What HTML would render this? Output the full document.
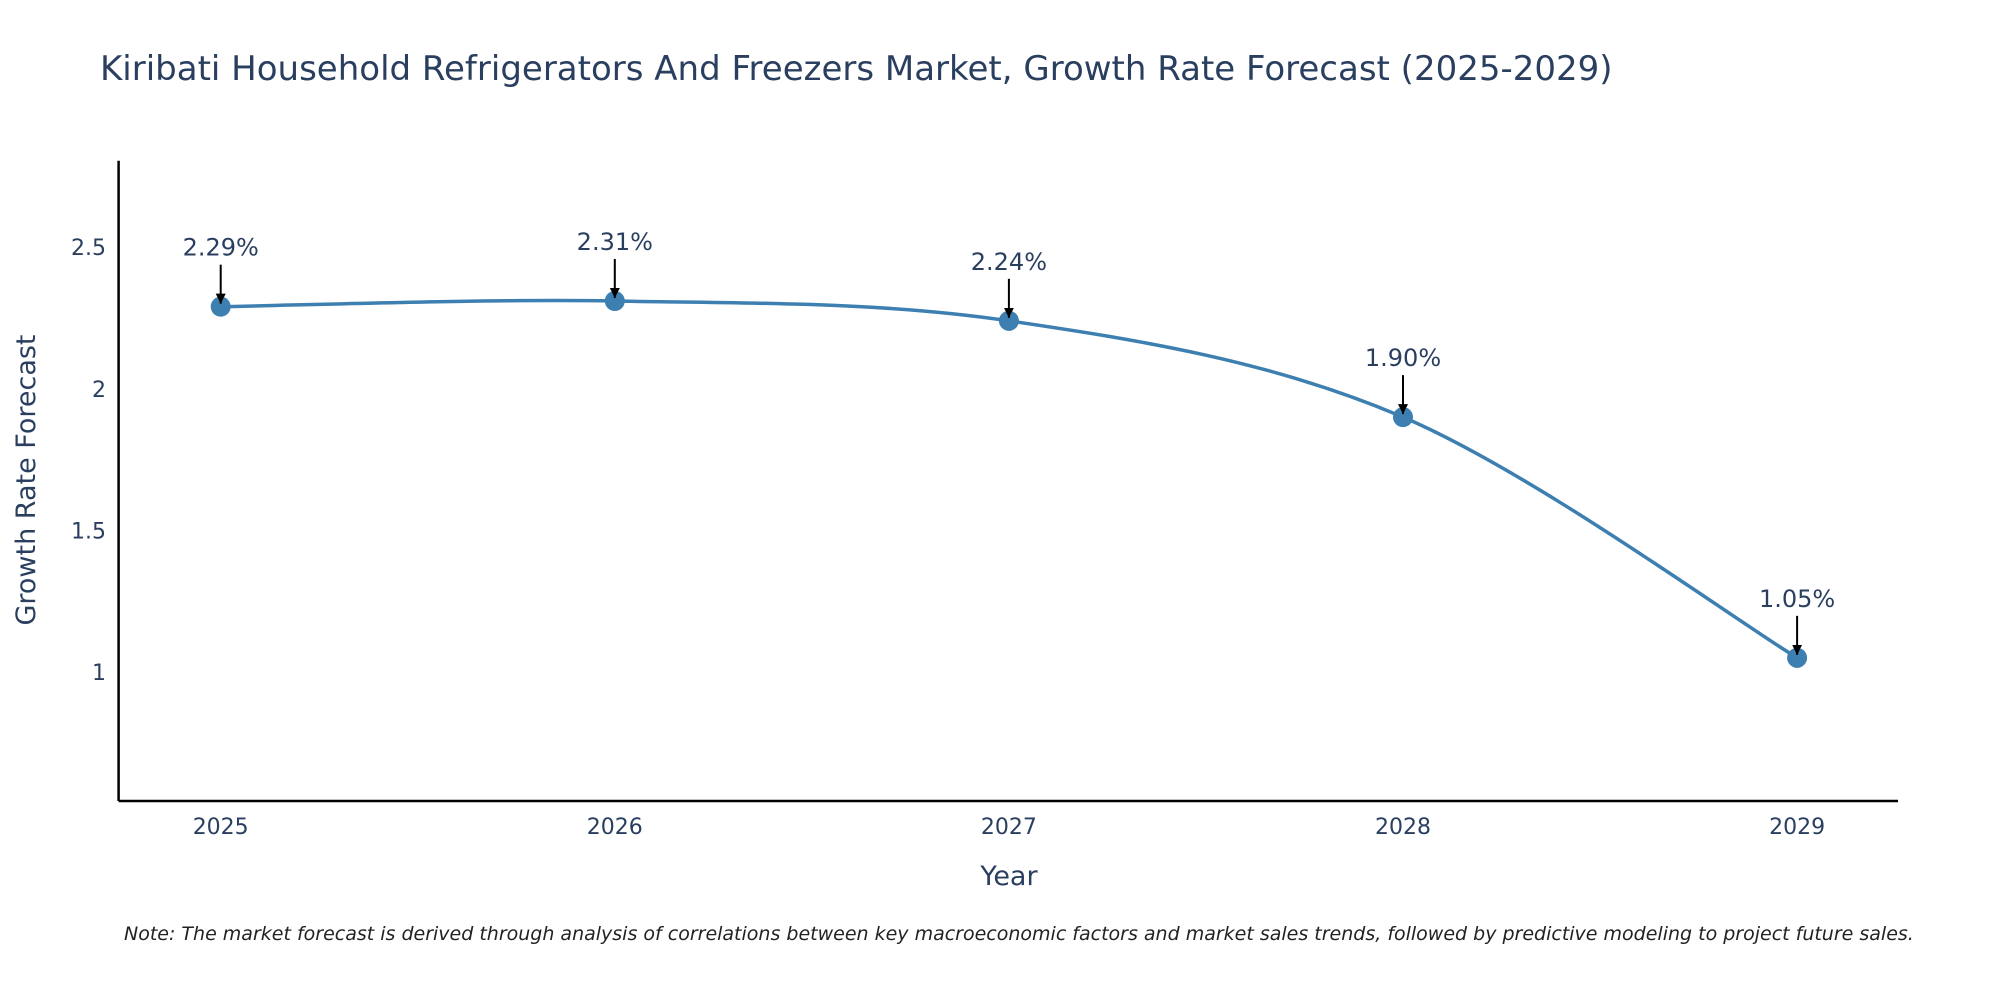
<!DOCTYPE html>
<html><head><meta charset="utf-8"><style>
body{margin:0;background:#fff;font-family:"DejaVu Sans","Liberation Sans",sans-serif;}
svg text{font-family:"DejaVu Sans","Liberation Sans",sans-serif;}
</style></head><body>
<svg id="chart" width="2000" height="1000" viewBox="0 0 2000 1000" xmlns="http://www.w3.org/2000/svg">
<defs><marker id="ah" viewBox="0 0 10 10" refX="10" refY="5" markerWidth="5" markerHeight="5" orient="auto"><path d="M0,0L10,5L0,10z" fill="#000"/></marker></defs>
<text x="100" y="80" font-size="34" fill="#2a3f5f">Kiribati Household Refrigerators And Freezers Market, Growth Rate Forecast (2025-2029)</text>
<g id="plot"></g>
<text x="1009" y="885" font-size="27" fill="#2a3f5f" text-anchor="middle">Year</text>
<text transform="translate(35,480) rotate(-90)" font-size="27" fill="#2a3f5f" text-anchor="middle">Growth Rate Forecast</text>
<text x="124" y="940" font-size="19" font-style="italic" fill="#222">Note: The market forecast is derived through analysis of correlations between key macroeconomic factors and market sales trends, followed by predictive modeling to project future sales.</text>
</svg>
<script>
const years=[2025,2026,2027,2028,2029];
const values=[2.29,2.31,2.24,1.90,1.05];
const labels=["2.29%","2.31%","2.24%","1.90%","1.05%"];
const yTicks=[1,1.5,2,2.5];
const yTickLabels=["1","1.5","2","2.5"];
const NS="http://www.w3.org/2000/svg";
const g=document.getElementById('plot');
const X0=118.6,X1=1898,Yb=801,Yt=160.7;
const xs=v=>220.7+(v-2025)*394.1;
const ys=v=>672-(v-1)*283.2;
function mk(t,a,p){const e=document.createElementNS(NS,t);for(const k in a)e.setAttribute(k,a[k]);(p||g).appendChild(e);return e;}
let e=mk('line',{x1:X0,y1:Yt,x2:X0,y2:Yb,stroke:'#000','stroke-width':2.5});


e=mk('line',{x1:X0,y1:Yb,x2:X1,y2:Yb,stroke:'#000','stroke-width':2.5});


yTicks.forEach((t,i)=>{const el=mk('text',{x:106,y:ys(t)+8,'font-size':22,fill:'#2a3f5f','text-anchor':'end'});el.textContent=yTickLabels[i];

});
years.forEach(y=>{const el=mk('text',{x:xs(y),y:834,'font-size':22,fill:'#2a3f5f','text-anchor':'middle'});el.textContent=y;

});
const P=years.map((y,i)=>[xs(y),ys(values[i])]);
let d='M'+P[0][0]+','+P[0][1];
for(let i=0;i<P.length-1;i++){const p0=P[Math.max(0,i-1)],p1=P[i],p2=P[i+1],p3=P[Math.min(P.length-1,i+2)];const k=1/6;
d+=' C'+(p1[0]+(p2[0]-p0[0])*k)+','+(p1[1]+(p2[1]-p0[1])*k)+' '+(p2[0]-(p3[0]-p1[0])*k)+','+(p2[1]-(p3[1]-p1[1])*k)+' '+p2[0]+','+p2[1];}
e=mk('path',{d:d,fill:'none',stroke:'#3d7fb0','stroke-width':3.5});


P.forEach((p,i)=>{const c=mk('circle',{cx:p[0],cy:p[1],r:10,fill:'#3d7fb0'});


const a=mk('line',{x1:p[0],y1:p[1]-42,x2:p[0],y2:p[1]-3,stroke:'#000','stroke-width':2,'marker-end':'url(#ah)'});


const t=mk('text',{x:p[0],y:p[1]-51,'font-size':24,fill:'#2a3f5f','text-anchor':'middle'});t.textContent=labels[i];

});
</script>
</body></html>
